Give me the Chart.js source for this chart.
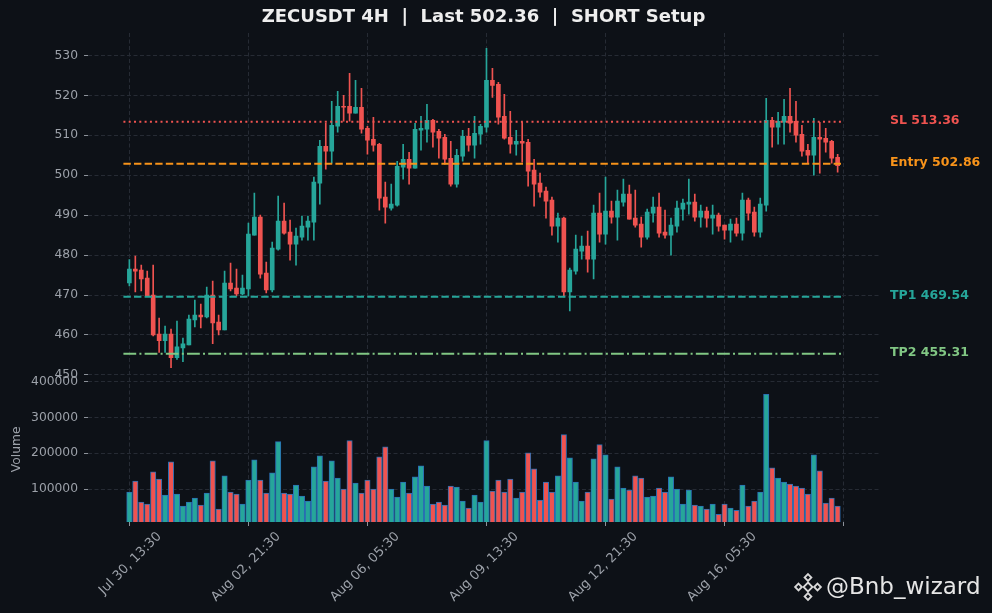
<!DOCTYPE html>
<html>
<head>
<meta charset="utf-8">
<script src="https://cdn.jsdelivr.net/npm/chart.js@4.4.1/dist/chart.umd.min.js"></script>
<style>
  html, body { margin: 0; padding: 0; background: #0d1117; }
  #wrap { position: relative; width: 992px; height: 613px; }
</style>
</head>
<body>
<div id="wrap"><canvas id="chart" width="992" height="613"></canvas></div>
<script>
// 4H candles, Jul 30 13:30 onwards
const opens = [
  473.0, 476.5, 476.25, 474.25, 470.0, 460.25, 458.6, 460.25, 454.3, 456.75,
  457.5, 463.75, 465.0, 464.5, 470.0, 463.25, 461.25, 473.0, 471.75, 470.25,
  471.5, 485.0, 489.5, 475.5, 471.25, 481.5, 488.5, 485.75, 482.75, 484.5,
  487.0, 488.25, 498.0, 507.25, 506.0, 512.25, 517.25, 517.25, 515.5, 517.0,
  511.75, 509.0, 507.75, 494.5, 491.75, 492.5, 502.0, 504.0, 501.75, 511.25,
  511.5, 513.75, 511.0, 509.5, 504.25, 497.75, 504.75, 509.75, 507.5, 510.25,
  512.0, 523.75, 522.75, 514.75, 509.5, 507.75, 508.5, 508.25, 501.25, 498.0,
  496.0, 493.75, 487.25, 489.25, 470.75, 476.0, 481.0, 482.25, 479.0, 490.5,
  485.25, 491.0, 489.5, 493.25, 495.25, 489.25, 487.75, 484.5, 490.5, 492.0,
  485.75, 485.0, 487.25, 491.5, 492.75, 493.25, 489.5, 491.0, 489.25, 490.0,
  487.5, 486.25, 487.75, 485.5, 493.75, 490.75, 485.75, 492.5, 513.75, 512.0,
  513.25, 514.75, 513.5, 510.25, 506.25, 505.0, 509.5, 509.25, 508.5, 504.5
];
const highs = [
  478.9, 479.75, 477.5, 476.0, 477.5, 464.25, 462.25, 461.5, 463.5, 459.25,
  465.0, 468.75, 467.75, 472.0, 473.5, 465.0, 476.0, 478.0, 476.5, 475.0,
  488.0, 495.5, 490.0, 478.25, 483.25, 494.75, 493.0, 488.75, 486.75, 489.75,
  489.75, 499.5, 508.75, 513.0, 518.5, 521.0, 520.0, 525.5, 523.75, 521.75,
  512.25, 514.5, 508.0, 498.25, 497.75, 503.5, 507.75, 505.75, 513.0, 514.75,
  517.75, 514.0, 511.5, 510.25, 508.5, 506.5, 511.25, 511.75, 514.75, 512.75,
  531.75, 526.75, 523.25, 520.25, 516.0, 511.25, 513.25, 509.0, 504.0, 500.5,
  497.0, 494.5, 490.5, 489.5, 476.75, 485.0, 484.75, 486.0, 492.5, 495.5,
  499.5, 493.5, 496.25, 499.0, 497.5, 496.25, 489.5, 491.5, 494.5, 495.5,
  491.25, 489.25, 493.5, 494.0, 499.0, 495.25, 492.5, 492.0, 492.5, 490.5,
  487.5, 489.0, 489.25, 495.5, 494.25, 492.0, 494.25, 519.25, 514.5, 515.75,
  519.0, 521.75, 518.5, 512.5, 507.75, 514.25, 513.25, 511.75, 508.75, 505.25
];
const lows = [
  472.25, 470.8, 471.0, 469.75, 459.75, 455.6, 455.6, 451.8, 453.9, 453.3,
  457.5, 462.0, 461.75, 464.25, 457.8, 460.0, 461.25, 471.0, 469.75, 470.0,
  469.75, 485.0, 474.25, 470.5, 470.75, 481.25, 485.25, 478.75, 477.5, 483.75,
  483.75, 483.75, 492.75, 501.5, 503.0, 510.75, 513.5, 513.5, 515.5, 510.5,
  505.25, 506.0, 491.25, 488.0, 491.25, 492.25, 499.0, 497.75, 501.75, 506.25,
  508.25, 507.0, 504.25, 502.75, 497.25, 497.0, 503.5, 506.0, 504.25, 507.75,
  510.75, 519.5, 512.75, 509.0, 505.5, 505.0, 503.25, 497.25, 492.25, 494.5,
  489.25, 485.0, 483.25, 469.5, 466.0, 475.25, 479.0, 475.75, 474.0, 483.25,
  482.75, 488.0, 483.75, 492.25, 489.0, 487.0, 482.0, 484.0, 488.25, 484.5,
  484.25, 480.0, 485.75, 488.75, 490.25, 488.5, 487.0, 487.0, 485.25, 486.0,
  484.0, 483.25, 484.75, 483.75, 488.75, 484.75, 484.5, 491.0, 507.0, 507.75,
  507.75, 510.75, 508.25, 504.75, 503.0, 500.0, 500.5, 505.75, 503.0, 500.75
];
const closes = [
  476.5, 476.0, 474.0, 469.75, 460.0, 458.6, 460.25, 454.3, 457.0, 457.75,
  464.0, 465.0, 464.5, 470.0, 463.0, 461.25, 473.0, 471.5, 470.25, 471.75,
  485.25, 489.5, 475.25, 471.25, 481.75, 488.5, 485.5, 482.75, 484.75, 487.25,
  488.5, 498.25, 507.25, 506.0, 512.5, 517.25, 517.0, 515.5, 517.0, 511.5,
  508.75, 507.5, 494.25, 492.0, 492.75, 502.25, 504.0, 501.75, 511.5, 511.75,
  513.75, 510.75, 509.25, 504.0, 497.75, 505.0, 509.75, 507.5, 510.5, 512.25,
  523.75, 522.5, 514.5, 509.25, 507.75, 508.5, 508.0, 501.0, 497.75, 495.75,
  493.5, 487.25, 489.25, 470.75, 476.25, 481.5, 482.25, 479.0, 490.5, 485.25,
  491.0, 489.5, 493.5, 495.25, 489.0, 487.5, 484.5, 490.75, 492.0, 485.5,
  485.0, 487.5, 491.75, 493.0, 493.25, 489.5, 491.0, 489.25, 490.0, 487.25,
  486.25, 487.75, 485.5, 493.75, 490.5, 485.75, 492.75, 513.75, 512.0, 513.5,
  514.75, 513.0, 510.0, 506.0, 505.0, 509.5, 509.0, 508.25, 504.25, 502.36
];
const volumes = [
  91500, 122500, 63400, 57700, 147900, 128200, 83100, 176000, 85900, 52100,
  63400, 74600, 54900, 88700, 178900, 43700, 136600, 91500, 85900, 57700,
  125400, 181700, 125400, 88700, 145100, 232400, 88700, 85900, 111300, 80300,
  66200, 162000, 193000, 122500, 178900, 131000, 100000, 235200, 116900, 88700,
  125400, 100000, 190100, 218300, 100000, 77500, 119700, 88700, 133800, 164800,
  108500, 57700, 63400, 54900, 108500, 105600, 66200, 46500, 83100, 63400,
  235200, 94400, 125400, 91500, 128200, 74600, 91500, 201400, 156300, 69000,
  119700, 91500, 136600, 252100, 187300, 119700, 66200, 91500, 184500, 224000,
  195800, 71800, 162000, 102800, 97200, 136600, 131000, 77500, 80300, 102800,
  91500, 133800, 100000, 57700, 97200, 54900, 52100, 43700, 57700, 29600,
  57700, 46500, 40800, 111300, 52100, 66200, 91500, 364800, 159200, 131000,
  119700, 114100, 108500, 102800, 85900, 195800, 150700, 60600, 74600, 52100
];

const tickLabels = ['Jul 30, 13:30', 'Aug 02, 21:30', 'Aug 06, 05:30', 'Aug 09, 13:30', 'Aug 12, 21:30', 'Aug 16, 05:30'];
const priceTicks = [450, 460, 470, 480, 490, 500, 510, 520, 530];
const volumeTicks = [100000, 200000, 300000, 400000];

const levelNames = ['SL', 'Entry', 'TP1', 'TP2'];
const levelValues = [513.36, 502.86, 469.54, 455.31];
const levelColors = ['#ef5350', '#f7931a', '#26a69a', '#81c784'];
const levelDashes = [[2, 3.3], [7.4, 3.2], [7.4, 3.2], [12.8, 3.2, 2, 3.2]];

const symbol = 'ZECUSDT';
const lastPrice = 502.36;

const UP = '#26a69a';
const DOWN = '#ef5350';
const BG = '#0d1117';
const GRID = '#262b34';
const TEXT = '#9da2aa';
const FONT = '"DejaVu Sans", sans-serif';

const candleColors = closes.map((c, i) => c >= opens[i] ? UP : DOWN);

const wickData = highs.map((h, i) => ({ x: i, y: [lows[i], h] }));
const bodyData = opens.map((o, i) => ({ x: i, y: [Math.min(o, closes[i]), Math.max(o, closes[i])] }));
const volData = volumes.map((v, i) => ({ x: i, y: v }));

const levelSets = levelValues.map((v, k) => ({
    type: 'line',
    label: levelNames[k],
    data: [{ x: -1, y: v }, { x: 120, y: v }],
    yAxisID: 'y',
    borderColor: levelColors[k],
    borderWidth: 2,
    borderDash: levelDashes[k],
    borderCapStyle: 'butt',
    pointRadius: 0,
    order: 0
}));

const overlay = {
    id: 'overlay',
    beforeDraw(chart) {
        const ctx = chart.ctx;
        ctx.save();
        ctx.fillStyle = BG;
        ctx.fillRect(0, 0, chart.width, chart.height);
        ctx.restore();
    },
    afterDraw(chart) {
        const { ctx, chartArea, scales } = chart;
        ctx.save();
        // title
        ctx.fillStyle = '#eeeeee';
        ctx.font = 'bold 18px ' + FONT;
        ctx.textAlign = 'center';
        ctx.textBaseline = 'middle';
        ctx.fillText(symbol + ' 4H  |  Last ' + lastPrice.toFixed(2) + '  |  SHORT Setup',
            (chartArea.left + chartArea.right) / 2, 17);

        // level labels on the right
        ctx.font = 'bold 12.5px ' + FONT;
        ctx.textAlign = 'left';
        levelValues.forEach((v, k) => {
            ctx.fillStyle = levelColors[k];
            ctx.fillText(levelNames[k] + ' ' + v.toFixed(2), chartArea.right + 11, scales.y.getPixelForValue(v) - 1);
        });

        // volume axis title
        ctx.fillStyle = TEXT;
        ctx.font = '12.3px ' + FONT;
        ctx.translate(17, (scales.yv.top + scales.yv.bottom) / 2);
        ctx.rotate(-Math.PI / 2);
        ctx.textAlign = 'center';
        ctx.fillText('Volume', 0, 0);
        ctx.restore();

        // watermark
        ctx.save();
        const cx = 808, cy = 587;
        ctx.strokeStyle = '#d9d9d9';
        ctx.lineWidth = 1.8;
        const diamond = (x, y, r) => {
            ctx.beginPath();
            ctx.moveTo(x, y - r); ctx.lineTo(x + r, y); ctx.lineTo(x, y + r); ctx.lineTo(x - r, y); ctx.closePath();
            ctx.stroke();
        };
        diamond(cx, cy, 4.5);
        diamond(cx, cy - 9.5, 3.4);
        diamond(cx, cy + 9.5, 3.4);
        diamond(cx - 9.5, cy, 3.4);
        diamond(cx + 9.5, cy, 3.4);
        ctx.fillStyle = '#e6e6e6';
        ctx.font = '23px ' + FONT;
        ctx.textAlign = 'left';
        ctx.textBaseline = 'middle';
        ctx.fillText('@Bnb_wizard', 826, 588);
        ctx.restore();
    }
};

new Chart(document.getElementById('chart'), {
    type: 'bar',
    data: {
        datasets: [
            ...levelSets,
            {
                label: 'Wicks',
                data: wickData,
                yAxisID: 'y',
                backgroundColor: candleColors,
                barThickness: 1,
                grouped: false,
                order: 2
            },
            {
                label: 'Bodies',
                data: bodyData,
                yAxisID: 'y',
                backgroundColor: candleColors,
                barThickness: 4,
                minBarLength: 1,
                grouped: false,
                order: 1
            },
            {
                label: 'Volume',
                data: volData,
                yAxisID: 'yv',
                backgroundColor: candleColors,
                borderColor: '#2a6fb3',
                borderWidth: 1,
                barThickness: 5.4,
                grouped: false,
                order: 1
            }
        ]
    },
    options: {
        responsive: false,
        animation: false,
        devicePixelRatio: 1,
        layout: { padding: { top: 33, right: 113, bottom: 0, left: 0 } },
        plugins: {
            legend: { display: false },
            tooltip: { enabled: false },
            title: { display: false }
        },
        scales: {
            x: {
                type: 'linear',
                position: 'bottom',
                min: -6.95,
                max: 125.95,
                offset: false,
                afterBuildTicks: scale => {
                    scale.ticks = [0, 20, 40, 60, 80, 100, 120].map(v => ({ value: v }));
                },
                afterFit: scale => { scale.height = 91; },
                ticks: {
                    autoSkip: false,
                    minRotation: 45,
                    maxRotation: 45,
                    labelOffset: 30,
                    padding: 3,
                    color: TEXT,
                    font: { family: FONT, size: 13 },
                    callback: v => tickLabels[v / 20] || ''
                },
                grid: {
                    color: GRID,
                    offset: false,
                    tickColor: '#8d929a',
                    tickLength: 4,
                    tickBorderDash: []
                },
                border: { display: false, dash: [4, 2.5] }
            },
            y: {
                type: 'linear',
                position: 'left',
                stack: 'panes',
                stackWeight: 343,
                weight: 2,
                min: 449.55,
                max: 535.6,
                afterBuildTicks: scale => {
                    scale.ticks = priceTicks.map(v => ({ value: v }));
                },
                afterFit: scale => { scale.width = 88; },
                ticks: {
                    padding: 6,
                    color: TEXT,
                    font: { family: FONT, size: 12.3 },
                    callback: v => String(v)
                },
                grid: {
                    color: GRID,
                    tickColor: '#8d929a',
                    tickLength: 4,
                    tickBorderDash: []
                },
                border: { display: false, dash: [4, 2.5] }
            },
            yv: {
                type: 'linear',
                position: 'left',
                stack: 'panes',
                stackWeight: 145,
                weight: 1,
                min: 7900,
                max: 414000,
                afterBuildTicks: scale => {
                    scale.ticks = volumeTicks.map(v => ({ value: v }));
                },
                afterFit: scale => { scale.width = 88; },
                ticks: {
                    padding: 6,
                    color: TEXT,
                    font: { family: FONT, size: 12.3 },
                    callback: v => String(v)
                },
                grid: {
                    color: GRID,
                    tickColor: '#8d929a',
                    tickLength: 4,
                    tickBorderDash: []
                },
                border: { display: false, dash: [4, 2.5] }
            }
        }
    },
    plugins: [overlay]
});
</script>
</body>
</html>
